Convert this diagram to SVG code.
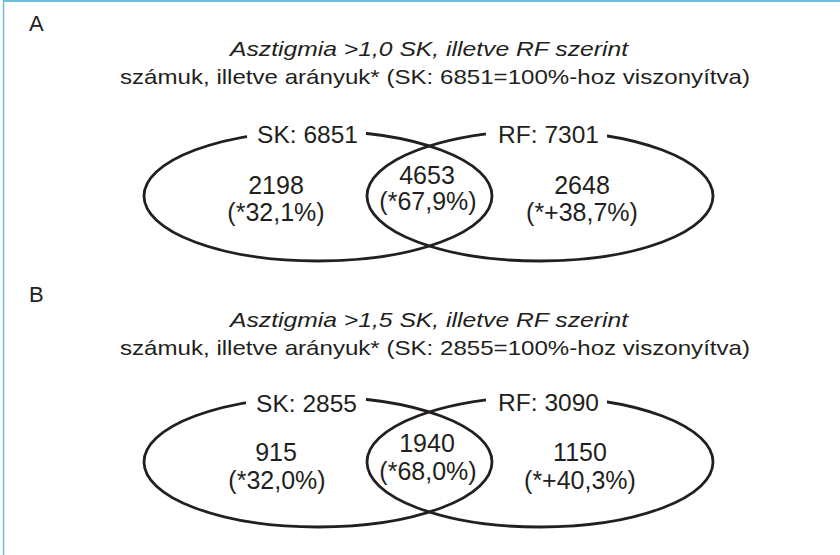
<svg xmlns="http://www.w3.org/2000/svg" width="840" height="555" viewBox="0 0 840 555">
<style>
text{font-family:"Liberation Sans",Arial,sans-serif;fill:#231f20}
.hd{font-size:22px}
.ti{font-size:21px;font-style:italic;text-anchor:middle}
.sub{font-size:21px;text-anchor:middle}
.lab{font-size:24.5px;text-anchor:middle}
.num{font-size:25px;text-anchor:middle}
.set{fill:none;stroke:#231f20;stroke-width:2.8}
.gap{fill:#ffffff}
.frame{stroke:#6cbfe0;fill:none}
</style>
<rect width="840" height="555" fill="#ffffff"/>
<line class="frame" x1="3" y1="1" x2="840" y2="1" stroke-width="2"/>
<line class="frame" x1="3.5" y1="0" x2="3.5" y2="555" stroke-width="1.5"/>

<g id="panelA-heading">
<text class="hd" x="29" y="31">A</text>
<text class="ti" x="429" y="56" textLength="398" lengthAdjust="spacingAndGlyphs">Asztigmia &gt;1,0 SK, illetve RF szerint</text>
<text class="sub" x="435" y="84" textLength="630" lengthAdjust="spacingAndGlyphs">számuk, illetve arányuk* (SK: 6851=100%-hoz viszonyítva)</text>
</g>
<g id="setA-SK">
<ellipse class="set" cx="318" cy="196" rx="174" ry="65"/>
<rect class="gap" x="247" y="120" width="119" height="28"/>
<text class="lab" x="307.5" y="143">SK: 6851</text>
<text class="num" x="276" y="194">2198</text>
<text class="num" x="276" y="221">(*32,1%)</text>
</g>
<g id="setA-RF">
<ellipse class="set" cx="540" cy="196" rx="173" ry="65"/>
<rect class="gap" x="486" y="120" width="121" height="28"/>
<text class="lab" x="548.5" y="143">RF: 7301</text>
<text class="num" x="582" y="194">2648</text>
<text class="num" x="582" y="221">(*+38,7%)</text>
</g>
<g id="setA-both">
<text class="num" x="427" y="184">4653</text>
<text class="num" x="428" y="210">(*67,9%)</text>
</g>

<g id="panelB-heading">
<text class="hd" x="29" y="302">B</text>
<text class="ti" x="429" y="327" textLength="398" lengthAdjust="spacingAndGlyphs">Asztigmia &gt;1,5 SK, illetve RF szerint</text>
<text class="sub" x="435" y="355" textLength="630" lengthAdjust="spacingAndGlyphs">számuk, illetve arányuk* (SK: 2855=100%-hoz viszonyítva)</text>
</g>
<g id="setB-SK">
<ellipse class="set" cx="318" cy="462" rx="174" ry="65"/>
<rect class="gap" x="246" y="389" width="120" height="28"/>
<text class="lab" x="306.5" y="412">SK: 2855</text>
<text class="num" x="276" y="461">915</text>
<text class="num" x="277" y="489">(*32,0%)</text>
</g>
<g id="setB-RF">
<ellipse class="set" cx="540" cy="462" rx="173" ry="65"/>
<rect class="gap" x="486" y="389" width="121" height="28"/>
<text class="lab" x="548.5" y="411">RF: 3090</text>
<text class="num" x="580" y="461">1150</text>
<text class="num" x="580" y="489">(*+40,3%)</text>
</g>
<g id="setB-both">
<text class="num" x="427" y="452">1940</text>
<text class="num" x="428" y="480">(*68,0%)</text>
</g>
<g id="connectors"></g>
</svg>
